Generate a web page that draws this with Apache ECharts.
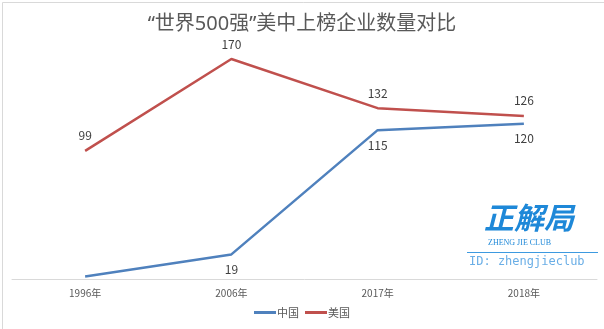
<!DOCTYPE html>
<html>
<head>
<meta charset="utf-8">
<script src="https://cdn.jsdelivr.net/npm/echarts@6/dist/echarts.min.js"></script>
<style>
html,body{margin:0;padding:0;background:#fff;}
#chart{width:604px;height:329px;}
</style>
</head>
<body>
<div id="chart"></div>
<script>
// Fortune Global 500: number of listed companies, China vs USA
const years = ['1996年', '2006年', '2017年', '2018年'];
const chinaCounts = [2, 19, 115, 120];
const usaCounts = [99, 170, 132, 126];
const seriesNames = ['中国', '美国'];
const titleText = '“世界500强”美中上榜企业数量对比';

const font = '"Noto Sans CJK SC", "Microsoft YaHei", sans-serif';
// Latin face first so the quotes and digits stay narrow
const titleFont = '"Noto Sans", "Noto Sans CJK SC", sans-serif';
const chart = echarts.init(document.getElementById('chart'), null, { renderer: 'canvas' });

chart.setOption({
  backgroundColor: '#ffffff',
  animation: false,
  title: {
    text: titleText,
    left: 'center',
    top: 9,
    textStyle: { fontFamily: titleFont, fontSize: 20, fontWeight: 'normal', color: '#595959' }
  },
  legend: {
    data: seriesNames,
    bottom: 6,
    left: 'center',
    itemWidth: 22,
    itemHeight: 3,
    itemGap: 6,
    icon: 'rect',
    textStyle: { fontFamily: font, fontSize: 11, color: '#595959', padding: [0, 0, 0, -4] }
  },
  grid: { left: 12, right: 7, top: 46, bottom: 50 },
  xAxis: {
    type: 'category',
    data: years,
    boundaryGap: true,
    axisLine: { lineStyle: { color: '#d9d9d9', width: 1 } },
    axisTick: { show: false },
    axisLabel: { fontFamily: font, fontSize: 10, color: '#595959', margin: 9 }
  },
  yAxis: {
    type: 'value',
    min: 0,
    max: 180,
    show: false,
    splitLine: { show: false }
  },
  series: [
    {
      name: seriesNames[0],
      type: 'line',
      data: chinaCounts.map((v, i) => ({ value: v, label: { show: i > 0 } })),
      symbol: 'circle',
      symbolSize: 0,
      showSymbol: true,
      lineStyle: { color: '#4f81bd', width: 2.5 },
      itemStyle: { color: '#4f81bd' },
      label: { show: true, position: 'bottom', distance: 9, fontFamily: font, fontSize: 12, color: '#404040' }
    },
    {
      name: seriesNames[1],
      type: 'line',
      data: usaCounts,
      symbol: 'circle',
      symbolSize: 0,
      showSymbol: true,
      lineStyle: { color: '#c0504d', width: 2.5 },
      itemStyle: { color: '#c0504d' },
      label: { show: true, position: 'top', distance: 9, fontFamily: font, fontSize: 12, color: '#404040' }
    }
  ],
  graphic: [
    {
      type: 'rect',
      left: 0, top: 0,
      shape: { x: 0.5, y: 0.5, width: 603, height: 328 },
      style: { fill: 'none', stroke: '#d9d9d9', lineWidth: 1 },
      silent: true
    },
    {
      type: 'text',
      left: 484, top: 203,
      style: { text: '正解局', font: 'bold italic 30px "Noto Sans CJK SC", sans-serif', fill: '#1e88d8' },
      silent: true
    },
    {
      type: 'text',
      left: 488, top: 239,
      style: { text: 'ZHENG JIE CLUB', font: '8px "Liberation Serif", serif', fill: '#1e88d8' },
      silent: true
    },
    {
      type: 'line',
      shape: { x1: 467, y1: 252.5, x2: 598, y2: 252.5 },
      style: { stroke: '#3d9ae0', lineWidth: 1 },
      silent: true
    },
    {
      type: 'text',
      left: 469, top: 256,
      style: { text: 'ID: zhengjieclub', font: '12px "DejaVu Sans Mono", monospace', fill: '#6aaee6' },
      silent: true
    }
  ]
});
</script>
</body>
</html>
